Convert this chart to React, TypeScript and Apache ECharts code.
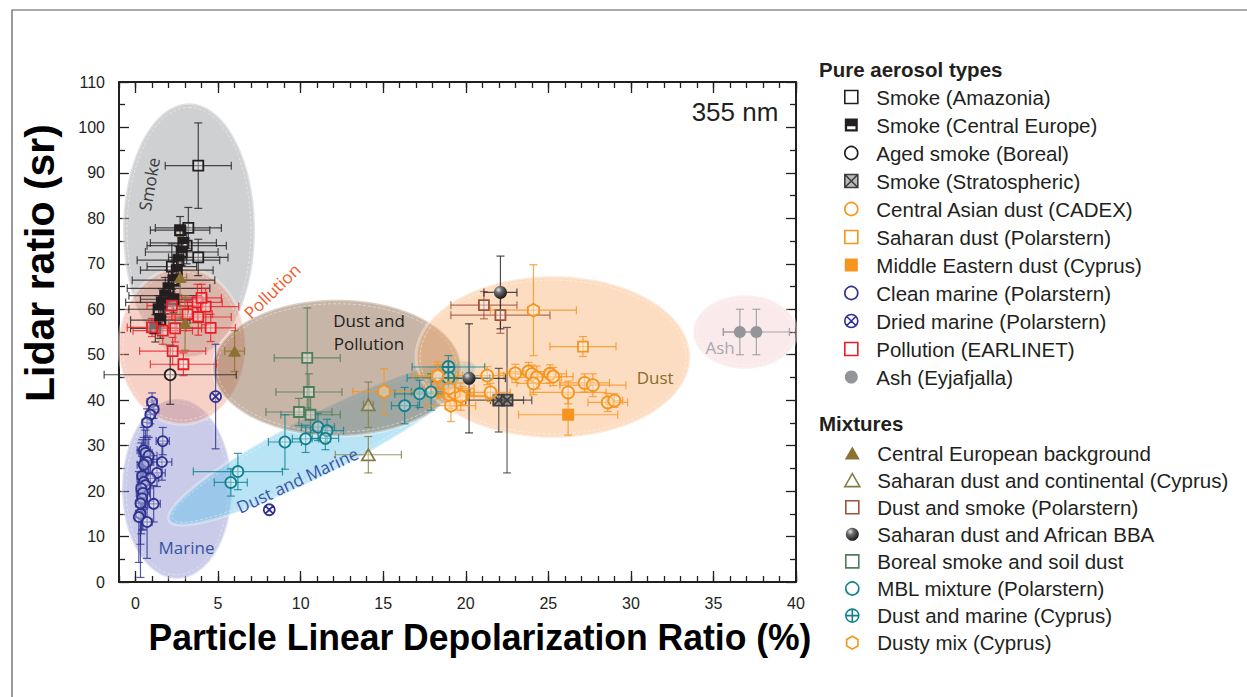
import { useEffect, useRef } from "react";
import * as echarts from "echarts";

// Particle linear depolarization ratio (%) vs. lidar ratio (sr) at 355 nm.
// Every row: [depolarization ratio, lidar ratio, ± depolarization, ± lidar ratio]

// ---------- pure aerosol types ----------
const smokeAmazonia = [
  [3.8, 91.6, 2.0, 9.4],
  [3.2, 77.9, 2.0, 4.5],
  [3.1, 74.0, 2.4, 4.0],
  [3.8, 71.4, 1.8, 4.0],
  [2.2, 69.4, 1.5, 5.0],
];
const smokeCentralEurope = [
  [2.7, 77.4, 1.8, 3.0],
  [2.9, 74.6, 2.0, 3.5],
  [2.8, 72.6, 2.2, 3.0],
  [2.6, 70.8, 2.5, 3.0],
  [2.5, 68.6, 2.2, 3.5],
  [2.3, 66.4, 2.5, 4.0],
  [2.0, 64.6, 2.5, 4.0],
  [1.8, 63.0, 2.2, 4.0],
  [2.3, 62.2, 2.0, 3.0],
  [1.6, 61.5, 2.2, 3.0],
  [1.4, 60.0, 1.8, 3.0],
  [1.5, 57.6, 1.8, 4.0],
  [1.2, 55.8, 1.5, 3.0],
];
const agedSmokeBoreal = [[2.1, 45.6, 4.0, 6.5]];
const smokeStratospheric = [
  [22.0, 40.0, 2.0, 7.0],
  [22.5, 40.0, 1.0, 16.0],
];
const dustCadex = [
  [18.3, 45.2, 1.2, 2.5],
  [21.3, 45.4, 1.0, 2.0],
  [21.5, 41.7, 1.2, 2.0],
  [23.0, 45.9, 1.0, 2.0],
  [23.8, 46.3, 1.3, 2.0],
  [24.0, 45.7, 1.0, 2.0],
  [24.3, 45.0, 1.5, 2.5],
  [24.1, 43.7, 1.0, 2.5],
  [25.1, 45.8, 1.0, 2.0],
  [25.3, 45.2, 1.2, 2.0],
  [26.2, 41.7, 2.3, 2.5],
  [27.2, 43.8, 1.5, 2.0],
  [27.7, 43.3, 2.0, 2.5],
  [28.6, 39.5, 1.2, 2.0],
  [29.0, 39.9, 0.5, 1.5],
];
const saharanDustPolarstern = [
  [27.1, 51.8, 2.0, 2.2],
  [19.8, 41.0, 1.5, 2.0],
];
const middleEastDustCyprus = [[26.2, 36.8, 3.0, 4.5]];
const cleanMarine = [
  [1.0, 39.6, 0.3, 2.0],
  [1.1, 38.0, 0.3, 2.0],
  [0.9, 36.8, 0.3, 2.0],
  [0.7, 35.1, 0.3, 3.0],
  [1.65, 31.0, 0.4, 3.0],
  [0.5, 29.0, 0.4, 5.0],
  [0.6, 28.4, 0.4, 5.0],
  [0.8, 27.8, 0.5, 4.0],
  [1.6, 26.4, 0.6, 4.0],
  [0.7, 26.4, 0.4, 5.0],
  [0.5, 25.8, 0.4, 6.0],
  [1.3, 24.0, 0.5, 3.0],
  [0.4, 23.3, 0.3, 8.0],
  [0.9, 22.8, 0.5, 5.0],
  [0.5, 22.0, 0.4, 6.0],
  [0.6, 21.3, 0.4, 5.0],
  [0.35, 20.6, 0.3, 10.0],
  [0.45, 19.6, 0.4, 8.0],
  [0.4, 18.4, 0.3, 7.0],
  [0.3, 17.3, 0.3, 9.0],
  [1.1, 17.2, 0.4, 4.0],
  [0.3, 15.0, 0.3, 14.0],
  [0.2, 14.3, 0.2, 10.0],
  [0.7, 13.2, 0.3, 8.0],
];
const driedMarine = [
  [4.85, 40.8, 0, 11.5],
  [8.1, 15.9, 0, 0],
];
const pollutionEarlinet = [
  [2.9, 47.9, 2.0, 2.5],
  [2.25, 50.8, 2.0, 3.0],
  [1.65, 55.3, 1.8, 3.0],
  [3.75, 61.5, 1.5, 4.0],
  [4.55, 55.9, 1.5, 3.0],
  [3.15, 58.9, 1.5, 3.0],
  [3.8, 58.3, 2.0, 4.0],
  [2.2, 60.8, 1.5, 3.0],
  [2.4, 55.8, 1.6, 3.0],
  [4.25, 60.6, 2.0, 4.0],
  [4.0, 62.5, 1.2, 3.0],
  [1.0, 56.0, 1.5, 2.0],
];
const ashEyjafjalla = [
  [36.6, 55.0, 1.0, 5.0],
  [37.6, 55.0, 2.0, 5.0],
];

// ---------- mixtures ----------
const centralEuropeanBackground = [
  [2.7, 67.0, 0.4, 9.0],
  [3.0, 57.0, 1.0, 6.0],
  [6.0, 50.8, 0.6, 4.5],
];
const saharanContinental = [
  [14.1, 39.0, 0.3, 5.0],
  [14.1, 28.0, 2.0, 4.0],
];
const dustSmokePolarstern = [
  [21.1, 60.9, 2.0, 3.0],
  [22.1, 58.7, 3.0, 4.0],
];
const saharanAfricanBba = [
  [22.1, 63.7, 1.0, 8.0],
  [20.2, 44.8, 2.2, 12.0],
];
const borealSmokeSoilDust = [
  [10.4, 49.3, 2.0, 11.0],
  [10.5, 41.8, 2.0, 4.0],
  [9.9, 37.4, 2.0, 3.0],
  [10.6, 36.8, 1.8, 4.0],
];
const mblMixture = [
  [5.77, 21.9, 1.0, 3.0],
  [6.2, 24.3, 2.7, 4.0],
  [9.05, 30.8, 1.0, 6.0],
  [10.3, 31.5, 0.8, 3.0],
  [11.05, 34.1, 1.0, 3.0],
  [11.6, 33.3, 1.0, 2.5],
  [11.5, 31.6, 0.8, 2.5],
  [16.3, 38.8, 0.8, 4.0],
  [17.2, 41.4, 1.5, 3.0],
  [17.9, 41.8, 1.2, 4.0],
];
const dustMarineCyprus = [
  [18.95, 47.3, 2.2, 2.5],
  [18.95, 44.9, 2.5, 2.5],
];
const dustyMixCyprus = [
  [15.05, 41.9, 1.9, 5.0],
  [24.1, 59.8, 2.6, 10.0],
  [19.1, 38.8, 1.5, 3.5],
  [19.0, 41.2, 1.5, 3.0],
  [19.3, 41.6, 1.2, 3.0],
  [19.7, 40.8, 1.5, 3.0],
  [18.3, 45.4, 1.5, 3.0],
  [19.0, 42.6, 1.5, 2.0],
];

// ---------- aerosol regions: [centre x, centre y, axis end x, axis end y, minor/major ratio] ----------
const regionEllipses = [
  [3.24, 77.4, 3.24, 105.3, 0.52], // smoke
  [2.51, 20.5, 2.51, 40.3, 0.61], // marine
  [11.3, 30.6, 20.56, 47.7, 0.175], // dust and marine
  [2.82, 51.9, 2.82, 69.1, 0.81], // pollution
  [12.2, 47.1, 19.71, 47.1, 0.55], // dust and pollution
  [25.29, 49.5, 33.59, 49.5, 0.59], // dust
  [36.92, 55.0, 40.07, 55.0, 0.71], // ash
];
const regionFills = [
  "rgba(160,162,166,0.5)",
  "rgba(120,125,200,0.4)",
  "rgba(100,195,235,0.45)",
  "rgba(236,140,110,0.4)",
  "rgba(130,90,60,0.45)",
  "rgba(248,170,100,0.4)",
  "rgba(240,170,180,0.25)",
];

const regionLabelText = ["Smoke", "Pollution", "Dust and\nPollution", "Dust and Marine", "Marine", "Dust", "Ash"];
const regionLabelPos = [
  [0.82, 87.5],
  [8.27, 64.0],
  [14.14, 55.1],
  [9.8, 22.4],
  [3.09, 7.7],
  [31.47, 45.1],
  [35.4, 51.5],
];
const regionLabelRotate = [80, 44, 0, 25, 0, 0, 0];
const regionLabelColor = ["#3a3a3c", "#f15a29", "#231f20", "#3953a4", "#3953a4", "#8b6a2b", "#a7a9ac"];

const xMajorTicks = [0, 5, 10, 15, 20, 25, 30, 35, 40];

// ---------- marker shapes ----------
const OPEN = "rgba(255,255,255,0.35)";
const SQUARE = "path://M0,0L10,0L10,10L0,10Z";
const TRIANGLE = "path://M5,0L10,8.66L0,8.66Z";
const HALF_SQUARE = "path://M0,0L10,0L10,10L0,10Z M1.8,1.8L1.8,8.2L8.2,8.2L8.2,1.8Z M1.8,1.8L8.2,1.8L8.2,6L1.8,6Z";
const CROSS_SQUARE = "path://M0,0L10,0L10,10L0,10Z M0,0L10,10 M10,0L0,10";
const CROSS_CIRCLE = "path://M0,5A5,5,0,1,1,10,5A5,5,0,1,1,0,5Z M1.5,1.5L8.5,8.5 M8.5,1.5L1.5,8.5";
const PLUS_CIRCLE = "path://M0,5A5,5,0,1,1,10,5A5,5,0,1,1,0,5Z M5,0L5,10 M0,5L10,5";
const HEXAGON = "path://M5,0L9.33,2.5L9.33,7.5L5,10L0.67,7.5L0.67,2.5Z";

const sphere = new echarts.graphic.RadialGradient(0.35, 0.3, 0.7, [
  { offset: 0, color: "#e6e6e6" },
  { offset: 0.35, color: "#6d6e71" },
  { offset: 1, color: "#1a1a1a" },
]);

type AerosolType = {
  name: string;
  rows: number[][];
  symbol: string;
  size: number;
  color: string;
  fill: any;
  border?: number;
};

const pureTypes: AerosolType[] = [
  { name: "Smoke (Amazonia)", rows: smokeAmazonia, symbol: SQUARE, size: 10, color: "#231f20", fill: OPEN },
  { name: "Smoke (Central Europe)", rows: smokeCentralEurope, symbol: HALF_SQUARE, size: 12, color: "#231f20", fill: "#231f20", border: 0 },
  { name: "Aged smoke (Boreal)", rows: agedSmokeBoreal, symbol: "circle", size: 11, color: "#231f20", fill: OPEN },
  { name: "Smoke (Stratospheric)", rows: smokeStratospheric, symbol: CROSS_SQUARE, size: 11, color: "#3c3c3e", fill: "rgba(120,120,120,0.5)" },
  { name: "Central Asian dust (CADEX)", rows: dustCadex, symbol: "circle", size: 12, color: "#f7941d", fill: OPEN },
  { name: "Saharan dust (Polarstern)", rows: saharanDustPolarstern, symbol: SQUARE, size: 10, color: "#f7941d", fill: OPEN },
  { name: "Middle Eastern dust (Cyprus)", rows: middleEastDustCyprus, symbol: SQUARE, size: 12, color: "#f7941d", fill: "#f7941d", border: 0 },
  { name: "Clean marine (Polarstern)", rows: cleanMarine, symbol: "circle", size: 10, color: "#2e3192", fill: OPEN },
  { name: "Dried marine (Polarstern)", rows: driedMarine, symbol: CROSS_CIRCLE, size: 11, color: "#2e3192", fill: OPEN },
  { name: "Pollution (EARLINET)", rows: pollutionEarlinet, symbol: SQUARE, size: 10, color: "#ed1c24", fill: OPEN },
  { name: "Ash (Eyjafjalla)", rows: ashEyjafjalla, symbol: "circle", size: 12, color: "#939598", fill: "#939598", border: 0 },
];

const mixtureTypes: AerosolType[] = [
  { name: "Central European background", rows: centralEuropeanBackground, symbol: TRIANGLE, size: 13, color: "#8c7232", fill: "#8c7232", border: 0 },
  { name: "Saharan dust and continental (Cyprus)", rows: saharanContinental, symbol: TRIANGLE, size: 13, color: "#857c45", fill: OPEN },
  { name: "Dust and smoke (Polarstern)", rows: dustSmokePolarstern, symbol: SQUARE, size: 10, color: "#a0523d", fill: OPEN },
  { name: "Saharan dust and African BBA", rows: saharanAfricanBba, symbol: "circle", size: 13, color: "#231f20", fill: sphere, border: 0 },
  { name: "Boreal smoke and soil dust", rows: borealSmokeSoilDust, symbol: SQUARE, size: 10, color: "#4f7c5a", fill: OPEN },
  { name: "MBL mixture (Polarstern)", rows: mblMixture, symbol: "circle", size: 11, color: "#10828f", fill: OPEN },
  { name: "Dust and marine (Cyprus)", rows: dustMarineCyprus, symbol: PLUS_CIRCLE, size: 12, color: "#10828f", fill: OPEN },
  { name: "Dusty mix (Cyprus)", rows: dustyMixCyprus, symbol: HEXAGON, size: 13, color: "#f7941d", fill: OPEN },
];

const SANS = '"Liberation Sans", Arial, Helvetica, sans-serif';
const NARROW = '"Liberation Sans Narrow", "Liberation Sans", Arial, sans-serif';
const HUMANIST = '"Open Sans", "Noto Sans", sans-serif';
const INK = "#231f20";

function errorBarRenderer(color: string) {
  return (params: any, api: any) => {
    const x = api.value(0);
    const y = api.value(1);
    const dx = api.value(2);
    const dy = api.value(3);
    const cap = 4;
    const style = { stroke: color, lineWidth: 1.2, opacity: 0.8 };
    const children: any[] = [];
    if (dx > 0) {
      const l = api.coord([x - dx, y]);
      const r = api.coord([x + dx, y]);
      children.push({ type: "line", shape: { x1: l[0], y1: l[1], x2: r[0], y2: r[1] }, style });
      children.push({ type: "line", shape: { x1: l[0], y1: l[1] - cap, x2: l[0], y2: l[1] + cap }, style });
      children.push({ type: "line", shape: { x1: r[0], y1: r[1] - cap, x2: r[0], y2: r[1] + cap }, style });
    }
    if (dy > 0) {
      const b = api.coord([x, y - dy]);
      const t = api.coord([x, y + dy]);
      children.push({ type: "line", shape: { x1: b[0], y1: b[1], x2: t[0], y2: t[1] }, style });
      children.push({ type: "line", shape: { x1: b[0] - cap, y1: b[1], x2: b[0] + cap, y2: b[1] }, style });
      children.push({ type: "line", shape: { x1: t[0] - cap, y1: t[1], x2: t[0] + cap, y2: t[1] }, style });
    }
    return { type: "group", children };
  };
}

function ellipsePoints(c: number[], a: number, b: number, t: number) {
  const pts: number[][] = [];
  const n = 120;
  for (let k = 0; k < n; k++) {
    const th = (k / n) * Math.PI * 2;
    const px = a * Math.cos(th);
    const py = b * Math.sin(th);
    pts.push([c[0] + px * Math.cos(t) - py * Math.sin(t), c[1] + px * Math.sin(t) + py * Math.cos(t)]);
  }
  return pts;
}

function buildSeries() {
  const series: any[] = [];

  series.push({
    type: "custom",
    id: "regions",
    silent: true,
    z: 1,
    data: regionEllipses,
    encode: { x: [0, 2], y: [1, 3] },
    renderItem: (params: any, api: any) => {
      const i = params.dataIndex;
      const c = api.coord([api.value(0), api.value(1)]);
      const e = api.coord([api.value(2), api.value(3)]);
      const dx = e[0] - c[0];
      const dy = e[1] - c[1];
      const a = Math.hypot(dx, dy);
      const b = a * api.value(4);
      const t = Math.atan2(dy, dx);
      return {
        type: "group",
        children: [
          {
            type: "polygon",
            shape: { points: ellipsePoints(c, a, b, t) },
            style: { fill: regionFills[i], stroke: "rgba(255,255,255,0.35)", lineWidth: 3 },
          },
          {
            type: "polygon",
            shape: { points: ellipsePoints(c, a - 4, b - 4, t) },
            style: { fill: "none", stroke: "rgba(255,255,255,0.55)", lineWidth: 0.8, lineDash: [3, 2] },
          },
        ],
      };
    },
  });

  series.push({
    type: "custom",
    id: "regionLabels",
    silent: true,
    z: 2,
    data: regionLabelPos,
    encode: { x: 0, y: 1 },
    renderItem: (params: any, api: any) => {
      const i = params.dataIndex;
      const p = api.coord([api.value(0), api.value(1)]);
      return {
        type: "text",
        x: p[0],
        y: p[1],
        rotation: (regionLabelRotate[i] * Math.PI) / 180,
        style: {
          text: regionLabelText[i],
          fill: regionLabelColor[i],
          font: `17px ${HUMANIST}`,
          align: "center",
          verticalAlign: "middle",
          lineHeight: 23,
        },
      };
    },
  });

  [...pureTypes, ...mixtureTypes].forEach((t, k) => {
    series.push({
      type: "custom",
      id: `err-${k}`,
      silent: true,
      z: 3,
      data: t.rows,
      encode: { x: 0, y: 1 },
      renderItem: errorBarRenderer(t.color),
    });
    series.push({
      type: "scatter",
      name: t.name,
      z: 4,
      symbol: t.symbol,
      symbolSize: t.size,
      symbolKeepAspect: true,
      data: t.rows.map((r) => [r[0], r[1]]),
      itemStyle: {
        color: t.fill,
        borderColor: t.color,
        borderWidth: t.border === undefined ? 1.8 : t.border,
        opacity: 1,
      },
      emphasis: { disabled: true },
    });
  });

  return series;
}

function legendData(types: AerosolType[]) {
  return types.map((t) =>
    t.border === 0 ? { name: t.name, itemStyle: { borderWidth: 0 } } : { name: t.name }
  );
}

const axisStroke = { color: INK, width: 2 };
const tickStroke = { color: INK, width: 1.3 };

function xAxisDef(position: "top" | "bottom", major: boolean, labels: boolean) {
  return {
    type: "value",
    min: -1,
    max: 40,
    interval: 1,
    position,
    axisLine: { show: !major, onZero: false, lineStyle: axisStroke },
    axisTick: major
      ? { show: true, inside: true, length: 11, customValues: xMajorTicks, lineStyle: tickStroke }
      : { show: true, inside: true, length: 6, lineStyle: tickStroke },
    axisLabel: labels
      ? {
          show: true,
          margin: 13,
          fontSize: 16,
          color: INK,
          fontFamily: NARROW,
          formatter: (v: number) => (v >= 0 && v % 5 === 0 ? String(v) : ""),
        }
      : { show: false },
    splitLine: { show: false },
  };
}

function yAxisDef(position: "left" | "right", labels: boolean) {
  return {
    type: "value",
    min: 0,
    max: 110,
    interval: 10,
    position,
    axisLine: { show: true, onZero: false, lineStyle: axisStroke },
    axisTick: { show: true, inside: true, length: 10, lineStyle: tickStroke },
    minorTick: { show: true, splitNumber: 2, length: 6, lineStyle: tickStroke },
    axisLabel: labels ? { show: true, margin: 14, fontSize: 16, color: INK, fontFamily: NARROW } : { show: false },
    splitLine: { show: false },
  };
}

export default function App() {
  const ref = useRef<HTMLDivElement>(null);

  useEffect(() => {
    if (!ref.current) return;
    const chart = echarts.init(ref.current, undefined, { renderer: "svg" });
    const legendCommon = {
      orient: "vertical",
      left: 839,
      itemWidth: 40,
      itemHeight: 13,
      padding: 5,
      selectedMode: false,
      symbolKeepAspect: true,
      textStyle: { fontSize: 20.5, lineHeight: 22, color: INK, fontFamily: SANS },
      itemStyle: { borderWidth: 1.6 },
    };
    chart.setOption({
      animation: false,
      backgroundColor: "#ffffff",
      grid: { left: 119, right: 451, top: 82, bottom: 115 },
      xAxis: [
        xAxisDef("bottom", false, true),
        xAxisDef("bottom", true, false),
        xAxisDef("top", false, false),
        xAxisDef("top", true, false),
      ],
      yAxis: [yAxisDef("left", true), yAxisDef("right", false)],
      legend: [
        { ...legendCommon, top: 81, itemGap: 6, data: legendData(pureTypes) },
        { ...legendCommon, top: 437, itemGap: 5.1, data: legendData(mixtureTypes) },
      ],
      graphic: [
        {
          type: "rect",
          silent: true,
          shape: { x: 12, y: 10, width: 1260, height: 720 },
          style: { fill: "none", stroke: "#58595b", lineWidth: 1.2 },
        },
        {
          type: "text",
          x: 819,
          y: 69,
          style: { text: "Pure aerosol types", font: `bold 20.5px ${SANS}`, fill: INK, verticalAlign: "middle" },
        },
        {
          type: "text",
          x: 819,
          y: 423,
          style: { text: "Mixtures", font: `bold 20.5px ${SANS}`, fill: INK, verticalAlign: "middle" },
        },
        {
          type: "text",
          x: 480,
          y: 637,
          scaleX: 0.96,
          style: {
            text: "Particle Linear Depolarization Ratio (%)",
            font: `bold 37px ${SANS}`,
            fill: "#000000",
            align: "center",
            verticalAlign: "middle",
          },
        },
        {
          type: "text",
          x: 40,
          y: 263,
          rotation: Math.PI / 2,
          style: {
            text: "Lidar ratio (sr)",
            font: `bold 41px ${SANS}`,
            fill: "#000000",
            align: "center",
            verticalAlign: "middle",
          },
        },
        {
          type: "text",
          x: 735,
          y: 112,
          style: { text: "355 nm", font: `26px ${SANS}`, fill: INK, align: "center", verticalAlign: "middle" },
        },
      ],
      series: buildSeries(),
    });
    return () => chart.dispose();
  }, []);

  return (
    <div
      ref={ref}
      style={{ position: "absolute", left: 0, top: 0, width: 1247, height: 697, background: "#ffffff" }}
    />
  );
}
